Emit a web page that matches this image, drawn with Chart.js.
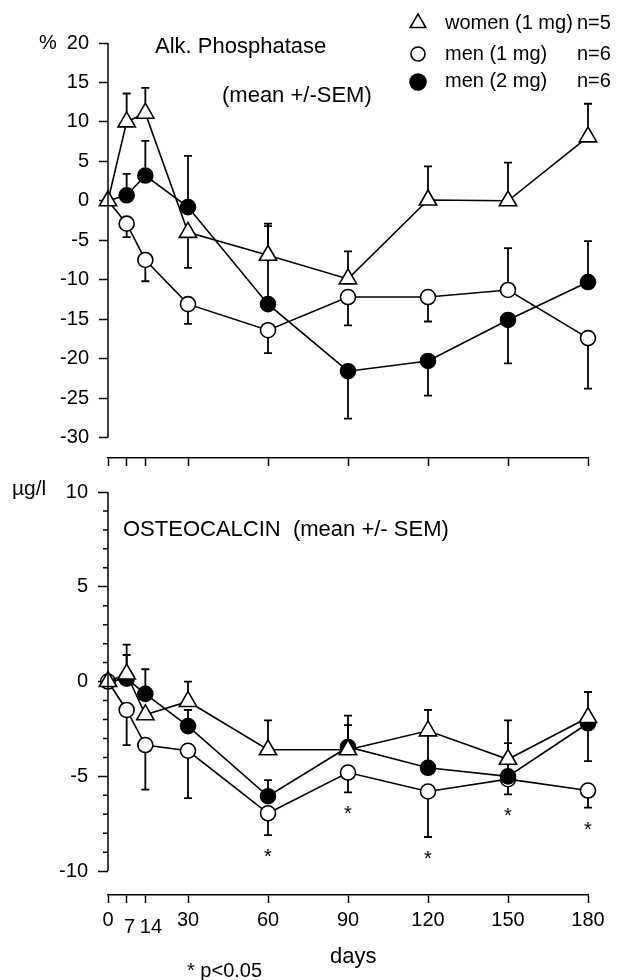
<!DOCTYPE html>
<html>
<head>
<meta charset="utf-8">
<script src="https://cdn.jsdelivr.net/npm/chart.js@4.4.0/dist/chart.umd.min.js"></script>
<style>
  body { margin: 0; background: #fff; }
  #wrap { position: relative; width: 621px; height: 980px; }
  canvas { position: absolute; left: 0; }
  #alk { top: 0; }
  #osc { top: 470px; }
</style>
</head>
<body>
<div id="wrap">
  <canvas id="alk" width="621" height="480"></canvas>
  <canvas id="osc" width="621" height="510"></canvas>
</div>
<script>
const days = [0, 7, 14, 30, 60, 90, 120, 150, 180];
const groups = ["women (1 mg)", "men (1 mg)", "men (2 mg)"];
const groupN = ["n=5", "n=6", "n=6"];

// Alk. Phosphatase, % change. *Sem = where the one-sided SEM bar ends
const alkWomen = [0, 10.0, 11.1, -4.0, -6.9, -9.9, 0.1, 0.0, 8.1];
const alkWomenSem = [null, 13.6, 14.3, -8.5, -2.9, -6.4, 4.35, 4.85, 12.3];
const alkMen1 = [0, -2.9, -7.5, -13.1, -16.4, -12.2, -12.2, -11.3, -17.4];
const alkMen1Sem = [null, -4.6, -10.2, -15.6, -19.3, -15.8, -15.3, -6.0, -23.8];
const alkMen2 = [0, 0.7, 3.2, -0.8, -13.1, -21.6, -20.3, -15.1, -10.3];
const alkMen2Sem = [null, 3.4, 7.6, 5.7, -3.2, -27.6, -24.7, -20.6, -5.1];

// Osteocalcin, µg/l
const oscWomen = [0, 0.4, -1.75, -1.05, -3.6, -3.6, -2.6, -4.1, -1.9];
const oscWomenSem = [null, 1.95, null, 0.0, -2.05, -1.8, -1.5, -2.05, -0.55];
const oscMen1 = [0, -1.5, -3.35, -3.65, -6.95, -4.8, -5.8, -5.15, -5.75];
const oscMen1Sem = [null, -3.35, -5.7, -6.15, -8.1, -5.85, -8.2, -5.95, -6.65];
const oscMen2 = [0, 0.15, -0.65, -2.35, -6.05, -3.45, -4.55, -5.0, -2.2];
const oscMen2Sem = [null, 1.4, 0.65, -1.5, -5.2, -2.3, -2.8, -3.25, -4.2];

const xTicks = [0, 7, 14, 30, 60, 90, 120, 150, 180];
const lowLabels = [7, 14]; // these two labels sit a bit lower (and right) in the figure
const alkTicks = [20, 15, 10, 5, 0, -5, -10, -15, -20, -25, -30];
const oscTicks = [10, 5, 0, -5, -10];
const oscMinor = [9, 8, 7, 6, 4, 3, 2, 1, -1, -2, -3, -4, -6, -7, -8, -9];
const sigDays = [60, 90, 120, 150, 180]; // p<0.05, men (1 mg)

const FONT = "'Liberation Sans', Arial, Helvetica, sans-serif";
Chart.defaults.font.family = FONT;
Chart.defaults.color = "#000";

// markMen1: draw the day-0 marker of men (1 mg) (hidden in the top panel)
function makeSets(women, womenSem, men1, men1Sem, men2, men2Sem, markMen1) {
  const base = [
    { label: groups[0], vals: women, sem: womenSem, style: "triangle", r: 10, fill: "#fff", order: 0, first: true },
    { label: groups[2], vals: men2, sem: men2Sem, style: "circle", r: 7.5, fill: "#000", order: 1, first: false },
    { label: groups[1], vals: men1, sem: men1Sem, style: "circle", r: 7.5, fill: "#fff", order: 2, first: markMen1 },
  ];
  return base.map((d) => ({
    label: d.label,
    data: days.map((x, i) => ({ x: x, y: d.vals[i] })),
    sem: d.sem,
    order: d.order,
    borderColor: "#000",
    borderWidth: 1.6,
    pointStyle: d.style,
    pointRadius: days.map((x, i) => (i === 0 && !d.first ? 0 : d.r)),
    pointBackgroundColor: d.fill,
    pointBorderColor: "#000",
    pointBorderWidth: 1.6,
    tension: 0,
    clip: false,
  }));
}

const semBars = {
  id: "semBars",
  beforeDatasetsDraw(chart) {
    const { ctx, scales: { x, y } } = chart;
    ctx.save();
    ctx.strokeStyle = "#000";
    ctx.lineWidth = 1.8;
    chart.data.datasets.forEach((ds) => {
      ds.sem.forEach((end, i) => {
        if (end === null) return;
        const px = x.getPixelForValue(days[i]);
        const y0 = y.getPixelForValue(ds.data[i].y);
        const y1 = y.getPixelForValue(end);
        ctx.beginPath();
        ctx.moveTo(px, y0);
        ctx.lineTo(px, y1);
        ctx.moveTo(px - 4, y1);
        ctx.lineTo(px + 4, y1);
        ctx.stroke();
      });
    });
    ctx.restore();
  },
};

// y axis line only from first to last tick, plus short minor ticks
const axisLines = {
  id: "axisLines",
  afterDraw(chart, args, opts) {
    const { ctx, scales: { y }, chartArea } = chart;
    const t = opts.ticks;
    ctx.save();
    ctx.strokeStyle = "#000";
    ctx.lineWidth = 1.5;
    ctx.beginPath();
    ctx.moveTo(chartArea.left, y.getPixelForValue(t[0]));
    ctx.lineTo(chartArea.left, y.getPixelForValue(t[t.length - 1]));
    (opts.minor || []).forEach((v) => {
      const py = y.getPixelForValue(v);
      ctx.moveTo(chartArea.left - 5, py);
      ctx.lineTo(chartArea.left, py);
    });
    ctx.stroke();
    ctx.restore();
  },
};

const notes = {
  id: "notes",
  afterDraw(chart, args, opts) {
    const ctx = chart.ctx;
    ctx.save();
    ctx.fillStyle = "#000";
    ctx.textBaseline = "alphabetic";
    ctx.textAlign = "left";
    (opts.items || []).forEach((n) => {
      ctx.font = n.size + "px " + FONT;
      ctx.fillText(n.text, n.x, n.y);
    });
    if (opts.legend) {
      const rows = [
        { style: "triangle", r: 9, fill: "#fff", my: 23, ty: 29 },
        { style: "circle", r: 7, fill: "#fff", my: 54, ty: 60 },
        { style: "circle", r: 8, fill: "#000", my: 82, ty: 87 },
      ];
      rows.forEach((row, i) => {
        ctx.fillStyle = row.fill;
        ctx.strokeStyle = "#000";
        ctx.lineWidth = 1.6;
        Chart.helpers.drawPoint(ctx, { pointStyle: row.style, radius: row.r, borderWidth: 1.6, rotation: 0 }, 418, row.my);
        ctx.fillStyle = "#000";
        ctx.font = "20px " + FONT;
        ctx.fillText(groups[i], 445, row.ty);
        ctx.fillText(groupN[i], 577, row.ty);
      });
    }
    if (opts.stars) {
      const { x, y } = chart.scales;
      const men1 = chart.data.datasets.find((d) => d.label === groups[1]);
      ctx.font = "20px " + FONT;
      ctx.textAlign = "center";
      sigDays.forEach((day) => {
        const i = days.indexOf(day);
        const py = y.getPixelForValue(men1.sem[i]);
        ctx.fillText("*", x.getPixelForValue(day), py + 28);
      });
    }
    ctx.restore();
  },
};

function tickLabel(v) {
  if (v === 7) return ["", " 7"];
  if (v === 14) return ["", "  14"];
  return String(v);
}

function xAxis(height, showLabels) {
  return {
    type: "linear",
    min: 0,
    max: 180,
    afterBuildTicks: (s) => { s.ticks = xTicks.map((v) => ({ value: v })); },
    afterFit: (s) => { s.height = height; },
    border: { display: true, color: "#000", width: 1.5 },
    grid: { drawOnChartArea: false, tickLength: 8, tickWidth: 1.5, tickColor: "#000" },
    ticks: {
      display: showLabels,
      autoSkip: false,
      maxRotation: 0,
      minRotation: 0,
      padding: 5,
      callback: tickLabel,
      font: (c) => ({
        size: 20,
        lineHeight: c.tick && lowLabels.includes(c.tick.value) ? "12.7px" : 1.2,
      }),
      color: "#000",
    },
  };
}

function yAxis(min, max, tickVals, tickLen) {
  return {
    min: min,
    max: max,
    afterBuildTicks: (s) => { s.ticks = tickVals.map((v) => ({ value: v })); },
    afterFit: (s) => { s.width = 108; },
    border: { display: false },
    grid: { drawOnChartArea: false, tickLength: tickLen, tickWidth: 1.5, tickColor: "#000" },
    ticks: { padding: 10, font: { size: 20 }, color: "#000" },
  };
}

new Chart(document.getElementById("alk"), {
  type: "line",
  data: { datasets: makeSets(alkWomen, alkWomenSem, alkMen1, alkMen1Sem, alkMen2, alkMen2Sem, false) },
  options: {
    responsive: false,
    animation: false,
    devicePixelRatio: 1,
    layout: { padding: { left: 0, right: 33, top: 43, bottom: 0 } },
    scales: {
      x: xAxis(19, false),
      y: yAxis(-32.6, 20, alkTicks, 9),
    },
    plugins: {
      legend: { display: false },
      tooltip: { enabled: false },
      axisLines: { ticks: alkTicks },
      notes: {
        legend: true,
        items: [
          { text: "%", x: 39, y: 49, size: 20 },
          { text: "Alk. Phosphatase", x: 155, y: 53, size: 22 },
          { text: "(mean +/-SEM)", x: 222, y: 102, size: 22 },
        ],
      },
    },
  },
  plugins: [semBars, axisLines, notes],
});

new Chart(document.getElementById("osc"), {
  type: "line",
  data: { datasets: makeSets(oscWomen, oscWomenSem, oscMen1, oscMen1Sem, oscMen2, oscMen2Sem, true) },
  options: {
    responsive: false,
    animation: false,
    devicePixelRatio: 1,
    layout: { padding: { left: 0, right: 33, top: 20, bottom: 0 } },
    scales: {
      x: xAxis(85, true),
      y: yAxis(-11.26, 10, oscTicks, 10),
    },
    plugins: {
      legend: { display: false },
      tooltip: { enabled: false },
      axisLines: { ticks: oscTicks, minor: oscMinor },
      notes: {
        stars: true,
        items: [
          { text: "µg/l", x: 12, y: 25, size: 21 },
          { text: "OSTEOCALCIN  (mean +/- SEM)", x: 123, y: 66, size: 22 },
          { text: "days", x: 330, y: 493, size: 22 },
          { text: "* p<0.05", x: 187, y: 507, size: 20 },
        ],
      },
    },
  },
  plugins: [semBars, axisLines, notes],
});
</script>
</body>
</html>
